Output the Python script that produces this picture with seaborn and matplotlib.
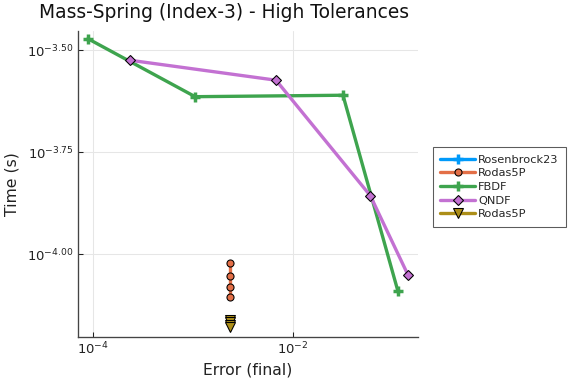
import numpy as np
import pandas as pd
import matplotlib
matplotlib.use("Agg")
import matplotlib.pyplot as plt
import seaborn as sns

# data (error vs time, log-log)
rosenbrock23_err = []
rosenbrock23_time = []

rodas5p_err = [2.37e-3, 2.37e-3, 2.37e-3, 2.37e-3]
rodas5p_time = [9.53e-5, 8.85e-5, 8.28e-5, 7.85e-5]

fbdf_err = [8.91e-5, 1.05e-3, 3.16e-2, 1.12e-1]
fbdf_time = [3.37e-4, 2.43e-4, 2.45e-4, 8.11e-5]

qndf_err = [2.34e-4, 6.76e-3, 5.93e-2, 1.41e-1]
qndf_time = [2.985e-4, 2.667e-4, 1.39e-4, 8.89e-5]

rodas5p_b_err = [2.37e-3, 2.37e-3, 2.37e-3, 2.37e-3]
rodas5p_b_time = [6.90e-5, 6.81e-5, 6.71e-5, 6.62e-5]

x_ticks = [1e-4, 1e-2]
x_ticklabels = ["$10^{-4}$", "$10^{-2}$"]
y_ticks = [10 ** -3.5, 10 ** -3.75, 10 ** -4.0]
y_ticklabels = ["$10^{-3.50}$", "$10^{-3.75}$", "$10^{-4.00}$"]

sns.set_theme(style="white")
plt.rcParams["font.family"] = ["DejaVu Sans"]
plt.rcParams["mathtext.fontset"] = "dejavusans"

fig = plt.figure(figsize=(6, 4), dpi=96)
ax = fig.add_axes([77.5 / 576, 1 - 337 / 384, (418 - 77.5) / 576, (337 - 31) / 384])

series = [
    ("Rosenbrock23", rosenbrock23_err, rosenbrock23_time, "#009AFA", "+"),
    ("Rodas5P", rodas5p_err, rodas5p_time, "#E36F47", "o"),
    ("FBDF", fbdf_err, fbdf_time, "#3EA44E", "+"),
    ("QNDF", qndf_err, qndf_time, "#C371D2", "D"),
    ("Rodas5P", rodas5p_b_err, rodas5p_b_time, "#AC8E18", "v"),
]

for name, xs, ys, color, mk in series:
    if mk == "+":
        mstyle = dict(markersize=8, markeredgewidth=2.6, markeredgecolor=color)
    elif mk == "D":
        mstyle = dict(markersize=5, markeredgewidth=0.8, markeredgecolor="black")
    elif mk == "v":
        mstyle = dict(markersize=8, markeredgewidth=0.8, markeredgecolor="black")
    else:
        mstyle = dict(markersize=5.3, markeredgewidth=0.8, markeredgecolor="black")
    if len(xs) == 0:
        ax.plot([], [], color=color, lw=2.5, marker=mk, label=name, **mstyle)
        continue
    df = pd.DataFrame({"err": xs, "time": ys})
    sns.lineplot(data=df, x="err", y="time", ax=ax, color=color, lw=2.5,
                 marker=mk, sort=False, estimator=None, label=name, **mstyle)

ax.set_xscale("log")
ax.set_yscale("log")
ax.set_xlim(10 ** -4.155, 10 ** -0.75)
ax.set_ylim(10 ** -4.2034, 10 ** -3.4534)
ax.set_xticks(x_ticks)
ax.set_xticklabels(x_ticklabels)
ax.set_yticks(y_ticks)
ax.set_yticklabels(y_ticklabels)
ax.minorticks_off()
ax.tick_params(axis="both", direction="in", length=4, width=0.8, colors="#222222",
               labelsize=9.8, bottom=True, left=True, pad=3)

ax.grid(True, color="#e6e6e6", lw=0.8)
for s in ["top", "right"]:
    ax.spines[s].set_visible(False)
for s in ["left", "bottom"]:
    ax.spines[s].set_color("#444444")
    ax.spines[s].set_linewidth(1.0)

ax.set_xlabel("Error (final)", fontsize=11.7, color="#222222")
ax.set_ylabel("Time (s)", fontsize=11.7, color="#222222", labelpad=6)

fig.text(224 / 576, 1 - 12 / 384, "Mass-Spring (Index-3) - High Tolerances",
         ha="center", va="center", fontsize=14, color="#111111")

leg = ax.legend(loc="center left", bbox_to_anchor=(1.044, 0.49), fontsize=8.5,
                frameon=True, fancybox=False, edgecolor="#333333",
                borderaxespad=0, borderpad=0.65, labelspacing=0.32,
                handlelength=3.1, handletextpad=0.25)
leg.get_frame().set_linewidth(0.8)

fig.savefig("out.png", dpi=96)
